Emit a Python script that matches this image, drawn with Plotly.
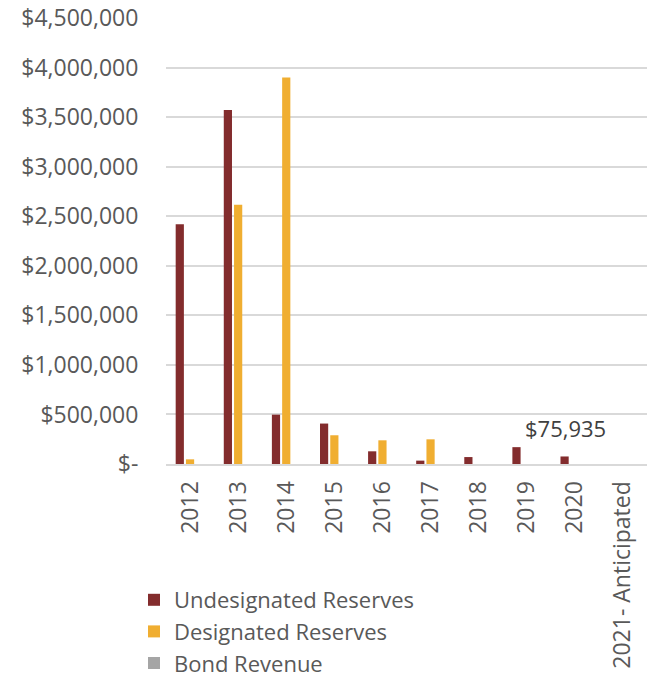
import plotly.graph_objects as go

# Reserve and bond funding by year
years = ["2012", "2013", "2014", "2015", "2016", "2017", "2018", "2019", "2020", "2021- Anticipated"]
undesignated = [2419000, 3572000, 498000, 408000, 128000, 34000, 70000, 170000, 75935, 0]
designated = [47000, 2617000, 3899000, 290000, 239000, 249000, 0, 0, 0, 0]
bond_revenue = [0, 0, 0, 0, 0, 0, 0, 0, 0, 0]

tick_vals = [0, 500000, 1000000, 1500000, 2000000, 2500000, 3000000, 3500000, 4000000, 4500000]
tick_text = ["$-", "$500,000", "$1,000,000", "$1,500,000", "$2,000,000", "$2,500,000",
             "$3,000,000", "$3,500,000", "$4,000,000", "$4,500,000"]

FONT = "Open Sans"
GREY_TEXT = "#595959"
FS = 23

L, R, T, B = 166, 9, 18, 214
W, H = 656, 678
plot_h = H - T - B
plot_w = W - L - R

fig = go.Figure()
fig.add_trace(go.Bar(name="Undesignated Reserves", x=years, y=undesignated,
                     marker=dict(color="#832C2D", line=dict(width=0))))
fig.add_trace(go.Bar(name="Designated Reserves", x=years, y=designated,
                     marker=dict(color="#F0AE31", line=dict(width=0))))
fig.add_trace(go.Bar(name="Bond Revenue", x=years, y=bond_revenue,
                     marker=dict(color="#A5A5A5", line=dict(width=0))))

# value label over the 2020 undesignated bar (category axes place annotations by index)
label_idx = years.index("2020")
fig.add_annotation(x=label_idx, y=undesignated[label_idx], text="$75,935", showarrow=False,
                   yanchor="bottom", yshift=11, xshift=-9,
                   font=dict(family=FONT, size=22, color="#404040"))

fig.update_layout(
    width=W, height=H,
    margin=dict(l=L, r=R, t=T, b=B, autoexpand=False),
    paper_bgcolor="white", plot_bgcolor="white",
    barmode="group", bargap=0.36, bargroupgap=0.2,
    font=dict(family=FONT, color=GREY_TEXT, size=FS),
    showlegend=True,
    legend=dict(x=(134 - L) / plot_w, y=-(579 - (T + plot_h)) / plot_h,
                xanchor="left", yanchor="top", orientation="v",
                font=dict(family=FONT, size=22, color=GREY_TEXT),
                itemsizing="constant", tracegroupgap=0, bgcolor="rgba(0,0,0,0)"),
)
fig.update_xaxes(type="category", tickangle=-90, showgrid=False, showline=True,
                 linecolor="#D9D9D9", linewidth=2, ticks="outside", ticklen=6,
                 tickcolor="rgba(0,0,0,0)", automargin=False,
                 tickfont=dict(family=FONT, size=FS, color=GREY_TEXT))
fig.update_yaxes(range=[0, 4500000], tickvals=tick_vals, ticktext=tick_text,
                 showgrid=True, gridcolor="#D9D9D9", gridwidth=1.5, zeroline=False,
                 showline=False, ticks="outside", ticklen=22, tickcolor="rgba(0,0,0,0)",
                 automargin=False,
                 tickfont=dict(family=FONT, size=FS, color=GREY_TEXT))

fig.write_html("out.html")
